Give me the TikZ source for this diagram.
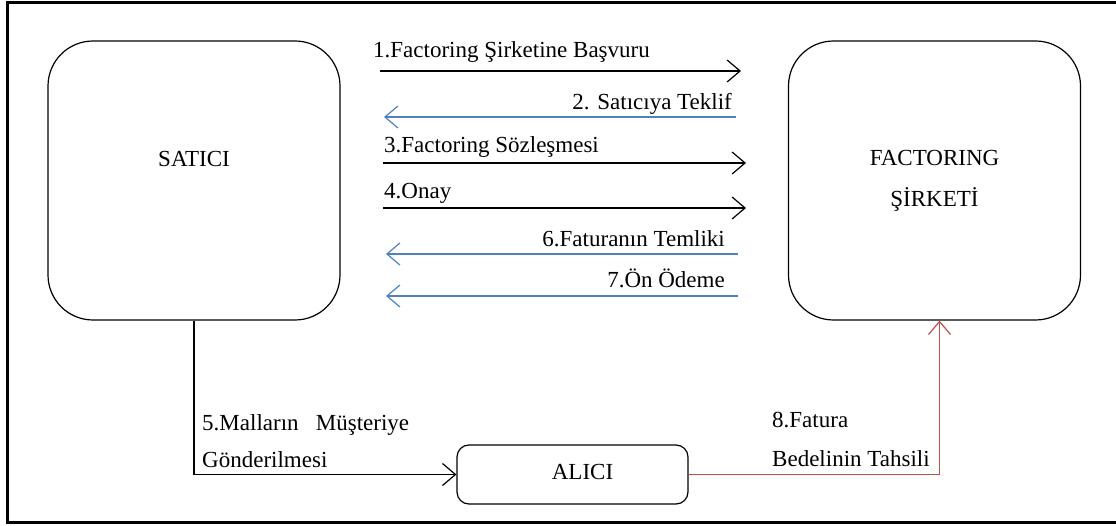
\documentclass[tikz,border=0pt]{standalone}
\usepackage{fontspec}
\setmainfont{Liberation Serif}
\usepackage{tikz}
\usetikzlibrary{arrows.meta}
\usepackage{xcolor}
\definecolor{akisblue}{RGB}{79,129,189}
\definecolor{akisred}{RGB}{192,80,77}

\tikzset{
    bigbox/.style={draw, line width=1.2pt, rounded corners=45pt, minimum width=292pt, minimum height=279pt},
    smallbox/.style={draw, line width=1.2pt, rounded corners=12pt, minimum width=231pt, minimum height=59pt},
    akis/.style={line width=1.2pt, -{Straight Barb[length=13pt,width=22pt,line width=1.2pt]}},
    etiket/.style={inner sep=0pt}
}

\begin{document}
\begin{tikzpicture}[x=1pt,y=-1pt,font=\fontsize{23}{27}\selectfont]
        \useasboundingbox (0,0) rectangle (1116,526);
        \draw[line width=3pt] (7,3) rectangle (1130,522);

        \node[bigbox] (satici) at (194,180.5) {};
        \node[bigbox] (factoring) at (934.5,180.5) {};
        \node[smallbox] (alici) at (572.5,474.5) {};

        \node (saticiyazi) at ([yshift=21pt]satici.center) {SATICI};
        \node[align=center, font=\fontsize{23}{41}\selectfont] (factoringyazi) at (factoring.center) {FACTORING\\ŞİRKETİ};
        \node (aliciyazi) at ([xshift=10pt,yshift=3pt]alici.center) {ALICI};

        \coordinate (s1) at (380,71);   \coordinate (f1) at (741,71);
        \coordinate (s2) at (384,117);  \coordinate (f2) at (736,117);
        \coordinate (s3) at (383,163);  \coordinate (f3) at (746,163);
        \coordinate (s4) at (383,208);  \coordinate (f4) at (746,208);
        \coordinate (s6) at (386,254);  \coordinate (f6) at (738,254);
        \coordinate (s7) at (386,296);  \coordinate (f7) at (738,296);

        \draw[akis] (s1) -- (f1);
        \draw[akis, color=akisblue] (f2) -- (s2);
        \draw[akis] (s3) -- (f3);
        \draw[akis] (s4) -- (f4);
        \draw[akis, color=akisblue] (f6) -- (s6);
        \draw[akis, color=akisblue] (f7) -- (s7);

        \node[etiket, anchor=base west] (e1) at (373,58) {1.Factoring Şirketine Başvuru};
        \node[etiket, anchor=base east] (e2) at (732,110) {2. Satıcıya Teklif};
        \node[etiket, anchor=base west] (e3) at (384,153) {3.Factoring Sözleşmesi};
        \node[etiket, anchor=base west] (e4) at (384,199) {4.Onay};
        \node[etiket, anchor=base east] (e6) at (725,247) {6.Faturanın Temliki};
        \node[etiket, anchor=base east] (e7) at (725,288) {7.Ön Ödeme};

        \draw[akis] (satici.south) |- (alici.west);
        \draw[akis, color=akisred] (alici.east) -| ([xshift=5pt]factoring.south);

        \node[etiket, anchor=base west] (e5a) at (202,430) {5.Malların\ \ \ Müşteriye};
        \node[etiket, anchor=base west] (e5b) at (202,467) {Gönderilmesi};
        \node[etiket, anchor=base west] (e8a) at (772,427) {8.Fatura};
        \node[etiket, anchor=base west] (e8b) at (772,466) {Bedelinin\ Tahsili};

\end{tikzpicture}
\end{document}
